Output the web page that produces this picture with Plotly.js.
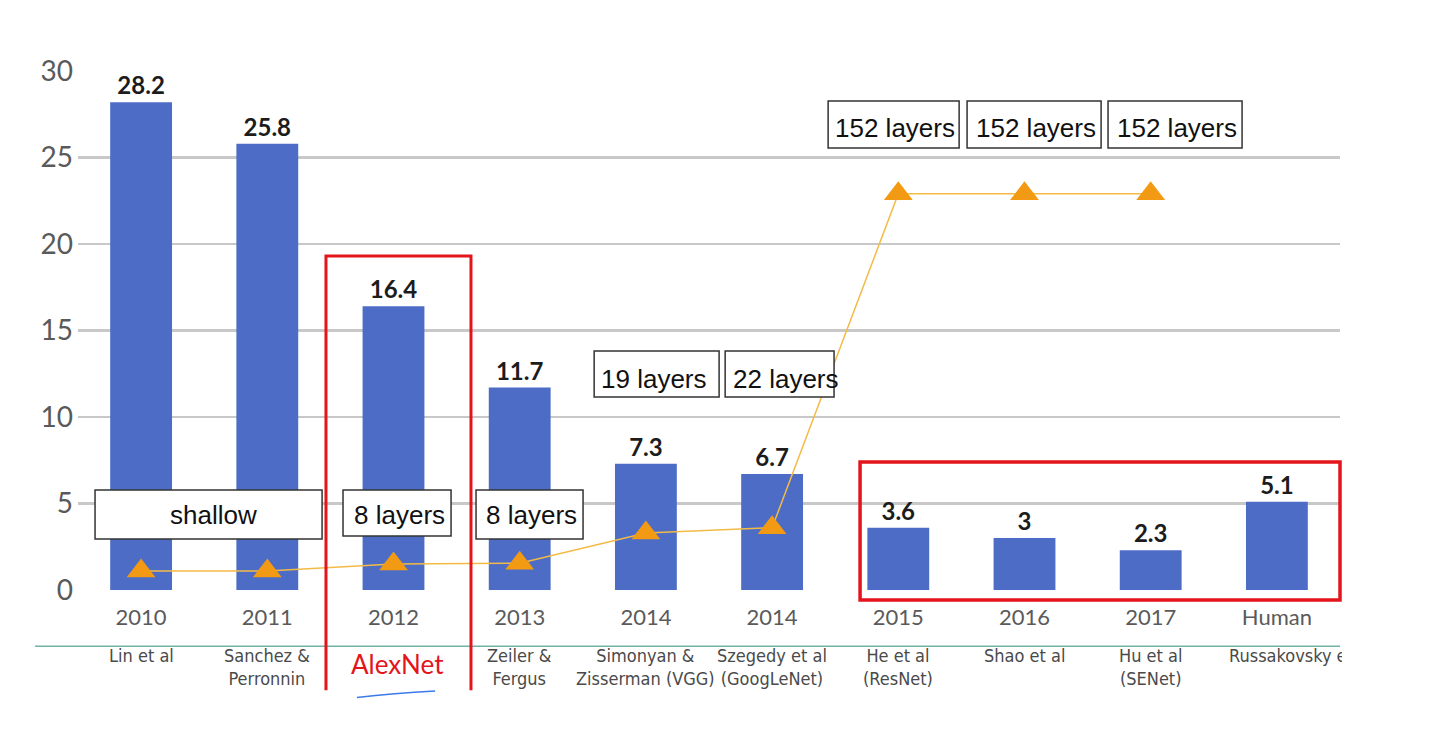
<!DOCTYPE html>
<html>
<head>
<meta charset="utf-8">
<script src="https://cdn.plot.ly/plotly-3.0.1.min.js"></script>
<style>
  html, body { margin: 0; padding: 0; background: #ffffff; }
  #chart { width: 1447px; height: 732px; }
</style>
</head>
<body>
<div id="chart"></div>
<script>
// ---- data ----
const years = ['2010', '2011', '2012', '2013', '2014', '2014', '2015', '2016', '2017', 'Human'];
const authors = ['Lin et al', 'Sanchez &<br>Perronnin', 'AlexNet', 'Zeiler &<br>Fergus',
  'Simonyan &<br>Zisserman (VGG)', 'Szegedy et al<br>(GoogLeNet)', 'He et al<br>(ResNet)',
  'Shao et al', 'Hu et al<br>(SENet)', 'Russakovsky et al'];
const errorRates = [28.2, 25.8, 16.4, 11.7, 7.3, 6.7, 3.6, 3, 2.3, 5.1];
const depthMarker = [1.1, 1.1, 1.5, 1.55, 3.3, 3.6, 22.9, 22.9, 22.9, null];
const depthLabels = ['shallow', '8 layers', '8 layers', '19 layers', '22 layers',
  '152 layers', '152 layers', '152 layers'];
const yTicks = [0, 5, 10, 15, 20, 25, 30];

// ---- layout of the depth label boxes (data units) ----
const depthBoxes = [
  {x0: -0.365, x1: 1.434, y0: 2.95, y1: 5.78, tx: 0.57, ty: 4.34},
  {x0: 1.60, x1: 2.456, y0: 3.12, y1: 5.78, tx: 2.05, ty: 4.34},
  {x0: 2.654, x1: 3.502, y0: 2.95, y1: 5.78, tx: 3.094, ty: 4.34},
  {x0: 3.59, x1: 4.58, y0: 11.16, y1: 13.82, tx: 4.065, ty: 12.2},
  {x0: 4.628, x1: 5.491, y0: 11.16, y1: 13.82, tx: 5.11, ty: 12.2},
  {x0: 5.444, x1: 6.482, y0: 25.55, y1: 28.27, tx: 5.975, ty: 26.7},
  {x0: 6.545, x1: 7.607, y0: 25.55, y1: 28.27, tx: 7.09, ty: 26.7},
  {x0: 7.662, x1: 8.724, y0: 25.55, y1: 28.27, tx: 8.21, ty: 26.7}
];

const xs = years.map((_, i) => i);

const bars = {
  type: 'bar',
  x: xs,
  y: errorRates,
  marker: {color: '#4d6cc6'},
  text: errorRates.map(String),
  textposition: 'outside',
  textfont: {family: 'Lato, "Liberation Sans", sans-serif', size: 24, color: '#1c1c1c', weight: 'bold'},
  cliponaxis: false,
  hoverinfo: 'skip',
  showlegend: false
};

const depth = {
  type: 'scatter',
  mode: 'lines+markers',
  x: xs,
  y: depthMarker,
  line: {color: '#f3bb45', width: 1.5},
  marker: {symbol: 'triangle-up', size: 25, color: '#f39a14'},
  connectgaps: false,
  hoverinfo: 'skip',
  showlegend: false
};

const shapes = [];
const annotations = [];

depthBoxes.forEach((b, i) => {
  shapes.push({type: 'rect', xref: 'x', yref: 'y', x0: b.x0, x1: b.x1, y0: b.y0, y1: b.y1,
    fillcolor: '#ffffff', line: {color: '#333333', width: 1.5}, layer: 'above'});
  annotations.push({xref: 'x', yref: 'y', x: b.tx, y: b.ty, text: depthLabels[i], showarrow: false,
    xanchor: 'center', yanchor: 'middle',
    font: {family: '"Liberation Sans", Arial, sans-serif', size: 26, color: '#111111'}});
});

// teal separator line between year row and author row
shapes.push({type: 'line', xref: 'paper', yref: 'paper', x0: -0.034, x1: 1.0, y0: -0.1085, y1: -0.1085,
  line: {color: '#6fb2a6', width: 1.5}, layer: 'above'});

// red highlight: AlexNet (open at the bottom)
shapes.push({type: 'path', xref: 'paper', yref: 'paper',
  path: 'M 0.1965 -0.193 L 0.1965 0.6435 L 0.3114 0.6435 L 0.3114 -0.193',
  line: {color: '#e3151b', width: 3}, layer: 'above'});

// red highlight: 2015 - Human
shapes.push({type: 'rect', xref: 'paper', yref: 'paper', x0: 0.6197, x1: 1.0, y0: -0.0193, y1: 0.2466,
  line: {color: '#e3151b', width: 3.5}, layer: 'above'});

// blue underline stroke below AlexNet
shapes.push({type: 'path', xref: 'paper', yref: 'paper',
  path: 'M 0.221 -0.207 Q 0.25 -0.199 0.283 -0.1945',
  line: {color: '#3b7be8', width: 1.5}, layer: 'above'});

const nameFont = {family: '"Liberation Sans Narrow", "DejaVu Sans Condensed", Lato, sans-serif', size: 18, color: '#4a4a4a'};

// author labels
authors.forEach((a, i) => {
  if (i === 2) {
    annotations.push({xref: 'x', yref: 'paper', x: i + 0.03, y: -0.108, text: a, showarrow: false,
      xanchor: 'center', yanchor: 'top',
      font: {family: 'Lato, "Open Sans", sans-serif', size: 26, color: '#e3151b'}});
  } else if (i === authors.length - 1) {
    annotations.push({xref: 'paper', yref: 'paper', x: (1227 - 78) / 1262, y: -0.102, text: a, showarrow: false,
      xanchor: 'left', yanchor: 'top', width: 113, align: 'left', font: nameFont});
  } else {
    annotations.push({xref: 'x', yref: 'paper', x: i, y: -0.102, text: a, showarrow: false,
      xanchor: 'center', yanchor: 'top', font: nameFont});
  }
});

const layout = {
  width: 1447,
  height: 732,
  paper_bgcolor: '#ffffff',
  plot_bgcolor: '#ffffff',
  margin: {l: 78, r: 107, t: 71, b: 142},
  bargap: 0.51,
  xaxis: {
    range: [-0.5, 9.5],
    tickmode: 'array',
    tickvals: xs,
    ticktext: years,
    showgrid: false,
    zeroline: false,
    showline: false,
    ticks: '',
    ticklabelstandoff: 12,
    tickfont: {family: 'Lato, "Open Sans", sans-serif', size: 22, color: '#5a5a5a'},
    fixedrange: true
  },
  yaxis: {
    range: [0, 30],
    tickmode: 'array',
    tickvals: yTicks,
    showgrid: true,
    gridcolor: '#c8c8c8',
    gridwidth: 2.5,
    zeroline: false,
    showline: false,
    ticks: '',
    ticklabelstandoff: 4,
    tickfont: {family: 'Lato, "Open Sans", sans-serif', size: 28, color: '#5a5a5a'},
    fixedrange: true
  },
  shapes: shapes,
  annotations: annotations,
  showlegend: false
};

Plotly.newPlot('chart', [bars, depth], layout, {displayModeBar: false, staticPlot: true});
</script>
</body>
</html>
